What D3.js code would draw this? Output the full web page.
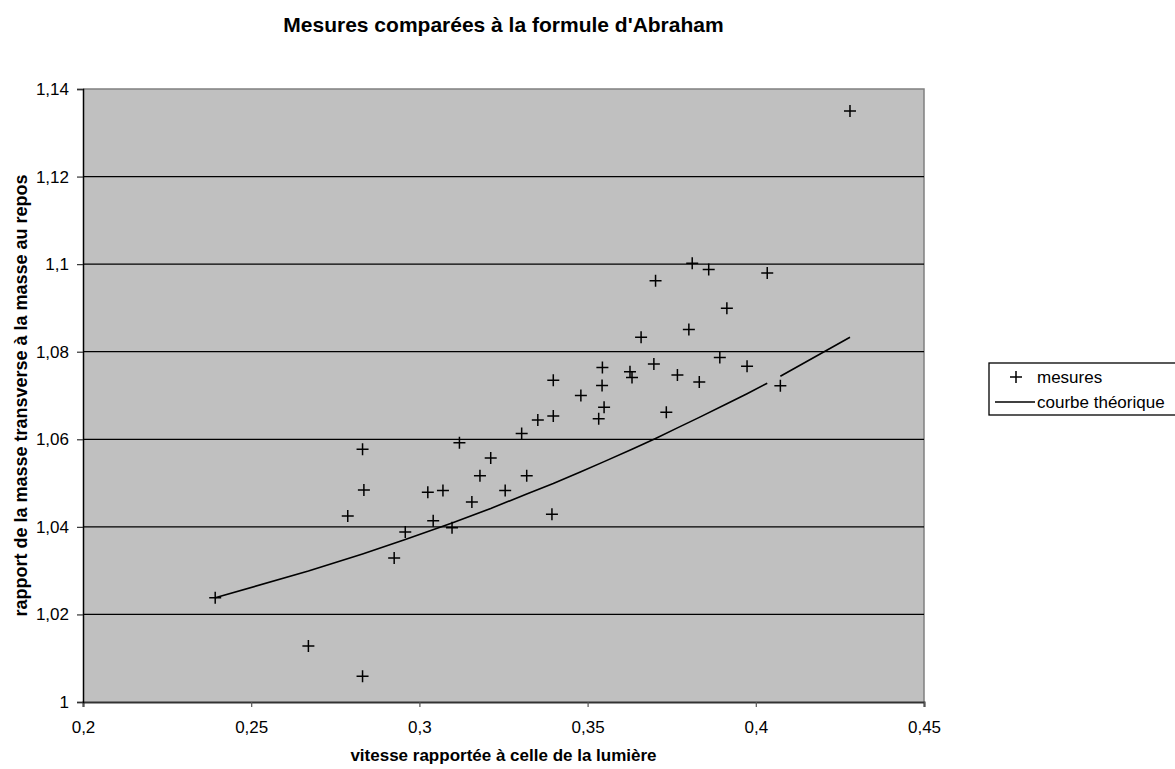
<!DOCTYPE html>
<html>
<head>
<meta charset="utf-8">
<script src="https://cdn.jsdelivr.net/npm/d3@7"></script>
<style>
  html, body { margin: 0; padding: 0; background: #ffffff; }
  svg { display: block; font-family: "Liberation Sans", Arial, sans-serif; }
</style>
</head>
<body>
<svg id="chart" width="1175" height="769"></svg>
<script>
// ---- data ----
const titleText = "Mesures comparées à la formule d'Abraham";
const xTitle = "vitesse rapportée à celle de la lumière";
const yTitle = "rapport de la masse transverse à la masse au repos";
const seriesNames = ["mesures", "courbe théorique"];

const mesuresX = [0.2393, 0.2670, 0.2787, 0.2831, 0.2831, 0.2835, 0.2925, 0.2958, 0.3025, 0.3041,
                  0.3070, 0.3097, 0.3119, 0.3156, 0.3180, 0.3212, 0.3255, 0.3304, 0.3319, 0.3352,
                  0.3394, 0.3398, 0.3398, 0.3480, 0.3533, 0.3544, 0.3543, 0.3549, 0.3626, 0.3632,
                  0.3659, 0.3697, 0.3702, 0.3734, 0.3767, 0.3801, 0.3811, 0.3832, 0.3860, 0.3893,
                  0.3914, 0.3974, 0.4034, 0.4073, 0.4280];
const mesuresY = [1.0238, 1.0128, 1.0425, 1.0577, 1.0059, 1.0484, 1.0329, 1.0388, 1.0479, 1.0414,
                  1.0483, 1.0398, 1.0592, 1.0457, 1.0517, 1.0557, 1.0483, 1.0613, 1.0517, 1.0644,
                  1.0429, 1.0653, 1.0735, 1.0700, 1.0647, 1.0764, 1.0723, 1.0673, 1.0754, 1.0741,
                  1.0833, 1.0772, 1.0962, 1.0662, 1.0747, 1.0851, 1.1002, 1.0731, 1.0988, 1.0787,
                  1.0899, 1.0767, 1.0980, 1.0722, 1.1350];

// theoretical curve (null = gap in the curve)
const theorieX = [0.2393, 0.2670, 0.2831, 0.2958, 0.3097, 0.3212, 0.3319, 0.3398, 0.3480, 0.3549,
                  0.3632, 0.3702, 0.3767, 0.3832, 0.3914, 0.3974, 0.4034, 0.4050, 0.4073, 0.4280];
const theorieY = [1.0238, 1.0299, 1.0338, 1.0371, 1.0409, 1.0442, 1.0475, 1.0499, 1.0526, 1.0549,
                  1.0577, 1.0602, 1.0626, 1.0650, 1.0681, 1.0704, 1.0728, null, 1.0744, 1.0833];

const xTickValues = [0.2, 0.25, 0.3, 0.35, 0.4, 0.45];
const xTickLabels = ["0,2", "0,25", "0,3", "0,35", "0,4", "0,45"];
const yTickValues = [1, 1.02, 1.04, 1.06, 1.08, 1.1, 1.12, 1.14];
const yTickLabels = ["1", "1,02", "1,04", "1,06", "1,08", "1,1", "1,12", "1,14"];

// ---- layout ----
const plot = { left: 83, right: 924, top: 89, bottom: 702 };
const svg = d3.select("#chart");

const x = d3.scaleLinear().domain([0.2, 0.45]).range([plot.left, plot.right]);
const y = d3.scaleLinear().domain([1, 1.14]).range([plot.bottom, plot.top]);

// plot background
svg.append("rect")
  .attr("x", plot.left).attr("y", plot.top)
  .attr("width", plot.right - plot.left).attr("height", plot.bottom - plot.top)
  .attr("fill", "#c0c0c0");

// top and right border (gray)
svg.append("path")
  .attr("d", `M${plot.left},${plot.top}H${plot.right}V${plot.bottom}`)
  .attr("fill", "none").attr("stroke", "#808080").attr("stroke-width", 1.5);

// gridlines
svg.append("g").selectAll("line")
  .data(yTickValues.filter(v => v > 1 && v < 1.14))
  .join("line")
  .attr("x1", plot.left).attr("x2", plot.right)
  .attr("y1", d => y(d)).attr("y2", d => y(d))
  .attr("stroke", "#000").attr("stroke-width", 1.3);

// axes
const xAxis = d3.axisBottom(x).tickValues(xTickValues)
  .tickFormat((d, i) => xTickLabels[i]).tickSize(5).tickPadding(14);
const gx = svg.append("g").attr("transform", `translate(0,${plot.bottom})`).call(xAxis);
gx.select(".domain").attr("stroke", "#333").attr("stroke-width", 2);
gx.selectAll(".tick line").attr("stroke", "#555").attr("stroke-width", 1.2);
gx.selectAll(".tick text").attr("font-size", 17).attr("fill", "#000")
  .attr("font-family", "Liberation Sans, Arial, sans-serif");

const yAxis = d3.axisLeft(y).tickValues(yTickValues)
  .tickFormat((d, i) => yTickLabels[i]).tickSize(6).tickPadding(8);
const gy = svg.append("g").attr("transform", `translate(${plot.left},0)`).call(yAxis);
gy.select(".domain").attr("stroke", "#000").attr("stroke-width", 1.5);
gy.selectAll(".tick line").attr("stroke", "#333").attr("stroke-width", 1.2);
gy.selectAll(".tick text").attr("font-size", 17).attr("fill", "#000")
  .attr("font-family", "Liberation Sans, Arial, sans-serif");

// theoretical curve
const curvePts = theorieX.map((d, i) => [d, theorieY[i]]);
const line = d3.line()
  .defined(d => d[1] !== null)
  .x(d => x(d[0])).y(d => y(d[1]));
svg.append("path")
  .datum(curvePts)
  .attr("d", line)
  .attr("fill", "none").attr("stroke", "#000").attr("stroke-width", 1.6);

// measurement markers (+)
const half = 6;
const pts = mesuresX.map((d, i) => [d, mesuresY[i]]);
const gm = svg.append("g");
gm.selectAll("path")
  .data(pts)
  .join("path")
  .attr("d", d => `M${x(d[0]) - half},${y(d[1])}H${x(d[0]) + half}M${x(d[0])},${y(d[1]) - half}V${y(d[1]) + half}`)
  .attr("stroke", "#000").attr("stroke-width", 1.5).attr("fill", "none");

// titles
svg.append("text")
  .attr("x", (plot.left + plot.right) / 2).attr("y", 32)
  .attr("text-anchor", "middle").attr("font-size", 21).attr("font-weight", "bold")
  .text(titleText);

svg.append("text")
  .attr("x", (plot.left + plot.right) / 2).attr("y", 761)
  .attr("text-anchor", "middle").attr("font-size", 17).attr("font-weight", "bold")
  .text(xTitle);

svg.append("text")
  .attr("transform", `translate(27,${(plot.top + plot.bottom) / 2}) rotate(-90)`)
  .attr("text-anchor", "middle").attr("font-size", 18).attr("font-weight", "bold")
  .text(yTitle);

// legend
const lg = svg.append("g");
lg.append("rect")
  .attr("x", 989).attr("y", 363).attr("width", 200).attr("height", 52)
  .attr("fill", "#fff").attr("stroke", "#000").attr("stroke-width", 1.3);
const lx = 1016, ly1 = 377, ly2 = 402;
lg.append("path")
  .attr("d", `M${lx - half},${ly1}H${lx + half}M${lx},${ly1 - half}V${ly1 + half}`)
  .attr("stroke", "#000").attr("stroke-width", 1.5);
lg.append("line")
  .attr("x1", 995).attr("x2", 1035).attr("y1", ly2).attr("y2", ly2)
  .attr("stroke", "#000").attr("stroke-width", 1.6);
lg.selectAll("text.leg")
  .data(seriesNames)
  .join("text")
  .attr("class", "leg")
  .attr("x", 1037).attr("y", (d, i) => i === 0 ? ly1 + 6 : ly2 + 6)
  .attr("font-size", 17)
  .text(d => d);
</script>
</body>
</html>
